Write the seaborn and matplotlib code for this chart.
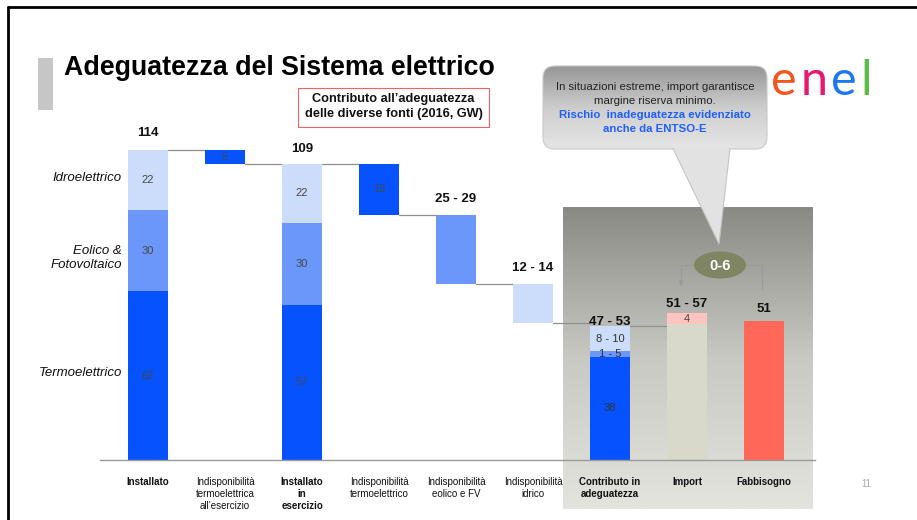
import numpy as np
import matplotlib
matplotlib.use("Agg")
import matplotlib.pyplot as plt
import seaborn as sns
from matplotlib.patches import Rectangle, FancyBboxPatch, Polygon, Ellipse
from matplotlib.colors import LinearSegmentedColormap

# Data (GW, 2016)
categories = ["Installato", "Indisponibilità\ntermoelettrica\nall’esercizio", "Installato\nin\nesercizio",
              "Indisponibilità\ntermoelettrico", "Indisponibilità\neolico e FV", "Indisponibilità\nidrico",
              "Contributo in\nadeguatezza", "Import", "Fabbisogno"]
bold_cats = ["Installato", "Installato\nin\nesercizio", "Contributo in\nadeguatezza", "Import", "Fabbisogno"]

installato = [62, 30, 22]        # termo, eolico & FV, idro
indisp_esercizio = 5
in_esercizio = [57, 30, 22]
indisp_termo = 19
indisp_eolico = 25.3             # shown as "25 - 29"
indisp_idrico = 14.2             # shown as "12 - 14"
contributo = [38, 2, 9.3]        # shown as "38", "1 - 5", "8 - 10"
import_gw = [50, 4]
fabbisogno = 51

top_labels = ["114", "", "109", "", "25 - 29", "12 - 14", "47 - 53", "51 - 57", "51"]
contributo_labels = ["38", "1 - 5", "8 - 10"]
source_names = ["Termoelettrico", "Eolico &\nFotovoltaico", "Idroelettrico"]

# colours
c_termo, c_eolico, c_idro = "#0552FE", "#6A97F9", "#CCDCFB"
c_import, c_import_extra, c_fabb = "#D8D9CB", "#FFC4BF", "#FF6859"

sns.set_style("white")
plt.rcParams["font.family"] = ["Liberation Sans", "DejaVu Sans"]

fig = plt.figure(figsize=(9.17, 5.2), dpi=100)
W, H = 917, 520
px_per_gw = 2.72
x0_px, step_px = 148, 77
ax = fig.add_axes([100 / W, (H - 460) / H, 715 / W, 340 / H])

# waterfall levels
lvl0 = sum(installato)
lvl1 = lvl0 - indisp_esercizio
lvl2 = sum(in_esercizio)
lvl3 = lvl2 - indisp_termo
lvl4 = lvl3 - indisp_eolico
lvl5 = lvl4 - indisp_idrico
contrib_top = sum(contributo)

n = len(categories)
z = [0] * n
termo_h = [installato[0], indisp_esercizio, in_esercizio[0], indisp_termo, 0, 0, contributo[0], 0, 0]
termo_b = [0, lvl1, 0, lvl3, 0, 0, 0, 0, 0]
eol_h = [installato[1], 0, in_esercizio[1], 0, indisp_eolico, 0, contributo[1], 0, 0]
eol_b = [installato[0], 0, in_esercizio[0], 0, lvl4, 0, contributo[0], 0, 0]
idro_h = [installato[2], 0, in_esercizio[2], 0, 0, indisp_idrico, contributo[2], 0, 0]
idro_b = [installato[0] + installato[1], 0, in_esercizio[0] + in_esercizio[1], 0, 0, lvl5,
          contributo[0] + contributo[1], 0, 0]
imp_h = [0] * 7 + [import_gw[0], 0]
imp2_h = [0] * 7 + [import_gw[1], 0]
imp2_b = [0] * 7 + [import_gw[0], 0]
fabb_h = [0] * 8 + [fabbisogno]

# grey gradient panel behind the last three columns
grey = LinearSegmentedColormap.from_list("panel", ["#8a8a85", "#c9c9c4", "#e4e4de"])
grad = np.linspace(0, 1, 256).reshape(-1, 1)
ax.imshow(grad, cmap=grey, aspect="auto", extent=(5.39, 8.636, -18.0, 93.0),
          origin="upper", clip_on=False, zorder=0)

layers = [(termo_h, termo_b, c_termo), (eol_h, eol_b, c_eolico), (idro_h, idro_b, c_idro),
          (imp_h, z, c_import), (imp2_h, imp2_b, c_import_extra), (fabb_h, z, c_fabb)]
for heights, bottoms, col in layers:
    sns.barplot(x=categories, y=heights, order=categories, bottom=bottoms, color=col,
                saturation=1, width=0.53, errorbar=None, linewidth=0, ax=ax, zorder=2)

# connector lines between bars
hw = 0.265
levels = [lvl0, lvl1, lvl2, lvl3, lvl4, lvl5, contrib_top]
for i, lv in enumerate(levels):
    ax.plot([i + hw, i + 1 - hw], [lv, lv], color="#8f8f8f", lw=0.9, zorder=1)

# labels inside bars
inner = "#474747"
fs_in = 8
for j, v in enumerate(installato):
    ax.text(0, sum(installato[:j]) + v / 2, f"{v}", ha="center", va="center", fontsize=fs_in, color=inner)
for j, v in enumerate(in_esercizio):
    ax.text(2, sum(in_esercizio[:j]) + v / 2, f"{v}", ha="center", va="center", fontsize=fs_in, color=inner)
ax.text(1, lvl1 + indisp_esercizio / 2, f"{indisp_esercizio}", ha="center", va="center", fontsize=fs_in, color=inner)
ax.text(3, lvl3 + indisp_termo / 2, f"{indisp_termo}", ha="center", va="center", fontsize=fs_in, color=inner)
for j, lab in enumerate(contributo_labels):
    ax.text(6, sum(contributo[:j]) + contributo[j] / 2, lab, ha="center", va="center",
            fontsize=fs_in, color="#333333")
ax.text(7, import_gw[0] + import_gw[1] / 2, f"{import_gw[1]}", ha="center", va="center",
        fontsize=fs_in, color=inner)

# totals above bars
tops = [lvl0, lvl0, lvl2, lvl2, lvl3, lvl4, contrib_top, sum(import_gw), fabbisogno]
gaps = [6.2, 0, 5.5, 0, 5.9, 5.9, 1.5, 3.4, 4.5]
for i, lab in enumerate(top_labels):
    if lab:
        ax.text(i, tops[i] + gaps[i], lab, ha="center", va="center", fontsize=9.5,
                fontweight="bold", color="#111111")

# source names on the left
name_y = [installato[0] / 2 + 1, installato[0] + installato[1] / 2 - 2.7,
          installato[0] + installato[1] + installato[2] / 2 + 0.7]
for name, y in zip(source_names, name_y):
    ax.text(-0.34, y, name, ha="right", va="center", fontsize=9.5, style="italic",
            color="#111111", linespacing=1.15)

ax.set_xlim((100 - x0_px) / step_px, (815 - x0_px) / step_px)
ax.set_ylim(0, 340 / px_per_gw)
ax.set_yticks([])
ax.set_xticks(range(n))
ax.set_xticklabels(categories, fontsize=7, linespacing=1.3)
for lab in ax.get_xticklabels():
    if lab.get_text() in bold_cats:
        lab.set_fontweight("bold")
ax.tick_params(axis="x", length=0, pad=12, colors="#111111")
ax.set_xlabel("")
ax.set_ylabel("")
for s in ["top", "left", "right"]:
    ax.spines[s].set_visible(False)
ax.spines["bottom"].set_color("#9a9a9a")
ax.spines["bottom"].set_linewidth(1)
ax.patch.set_alpha(0)

# overlay in pixel coordinates for slide decorations
ov = fig.add_axes([0, 0, 1, 1], zorder=5)
ov.patch.set_alpha(0)
ov.axis("off")

ov.plot([8, 917], [7, 7], color="black", lw=2)
ov.plot([8, 8], [7, 520], color="black", lw=2)
ov.add_patch(Rectangle((38, 58), 15, 52, color="#c6c6c6", lw=0))
ov.text(64, 68, "Adeguatezza del Sistema elettrico", fontsize=19.3, fontweight="bold",
        ha="left", va="center", color="black")

ov.add_patch(Rectangle((298, 88), 191, 39, fill=False, edgecolor="#ee6464", lw=0.8))
ov.text(393.5, 106.5, "Contributo all’adeguatezza\ndelle diverse fonti (2016, GW)", fontsize=9.2,
        fontweight="bold", ha="center", va="center", linespacing=1.3, color="#111111")

# callout bubble
bubble = FancyBboxPatch((543, 66), 224, 83, boxstyle="round,pad=0,rounding_size=12",
                        facecolor="none", edgecolor="#c9c9c9", lw=0.8, zorder=3)
ov.add_patch(bubble)
bub_cmap = LinearSegmentedColormap.from_list("bub", ["#969696", "#cdcdcd", "#e6e6e6"])
im = ov.imshow(grad, cmap=bub_cmap, aspect="auto", extent=(543, 767, 149, 66), zorder=2)
im.set_clip_path(bubble)
ov.add_patch(Polygon([(673, 147.5), (730, 147.5), (719, 244)], closed=True,
                     facecolor="#e2e2e2", edgecolor="none", zorder=4))
ov.plot([673, 719, 730], [148.5, 244, 148.5], color="#c4c4c4", lw=0.8, zorder=4)
ov.text(655, 87, "In situazioni estreme, import garantisce", fontsize=8.2, ha="center",
        va="center", color="#222222", zorder=5)
ov.text(655, 101, "margine riserva minimo.", fontsize=8.2, ha="center", va="center",
        color="#222222", zorder=5)
ov.text(655, 115, "Rischio  inadeguatezza evidenziato", fontsize=8.2, ha="center", va="center",
        color="#1F5FFF", fontweight="bold", zorder=5)
ov.text(655, 129, "anche da ENTSO-E", fontsize=8.2, ha="center", va="center",
        color="#1F5FFF", fontweight="bold", zorder=5)

# 0-6 oval with bracket
ov.plot([694, 681, 681], [265, 265, 280], color="#9a9a9a", lw=0.9, zorder=3)
ov.annotate("", xy=(681, 289), xytext=(681, 279),
            arrowprops=dict(arrowstyle="-|>", color="#9a9a9a", lw=0.9, mutation_scale=7), zorder=3)
ov.plot([746, 762, 762], [265, 265, 289], color="#9a9a9a", lw=0.9, zorder=3)
ov.add_patch(Ellipse((720, 265), 52, 27, facecolor="#7F8462", edgecolor="none", zorder=4))
ov.text(720, 265.5, "0-6", fontsize=10.5, fontweight="bold", color="white", ha="center",
        va="center", zorder=5)

# enel logo
for ch, xx, col in [("e", 784, "#F2551E"), ("n", 814, "#E8196E"), ("e", 844, "#1D78F0"), ("l", 866, "#5DBB4A")]:
    ov.text(xx, 95, ch, fontsize=35, color=col, ha="center", va="baseline",
            family=["Lato", "DejaVu Sans"])

ov.text(866, 484, "11", fontsize=7, color="#aaaaaa", ha="center", va="center")

ov.set_xlim(0, W)
ov.set_ylim(H, 0)

fig.savefig("out.png", dpi=100)
